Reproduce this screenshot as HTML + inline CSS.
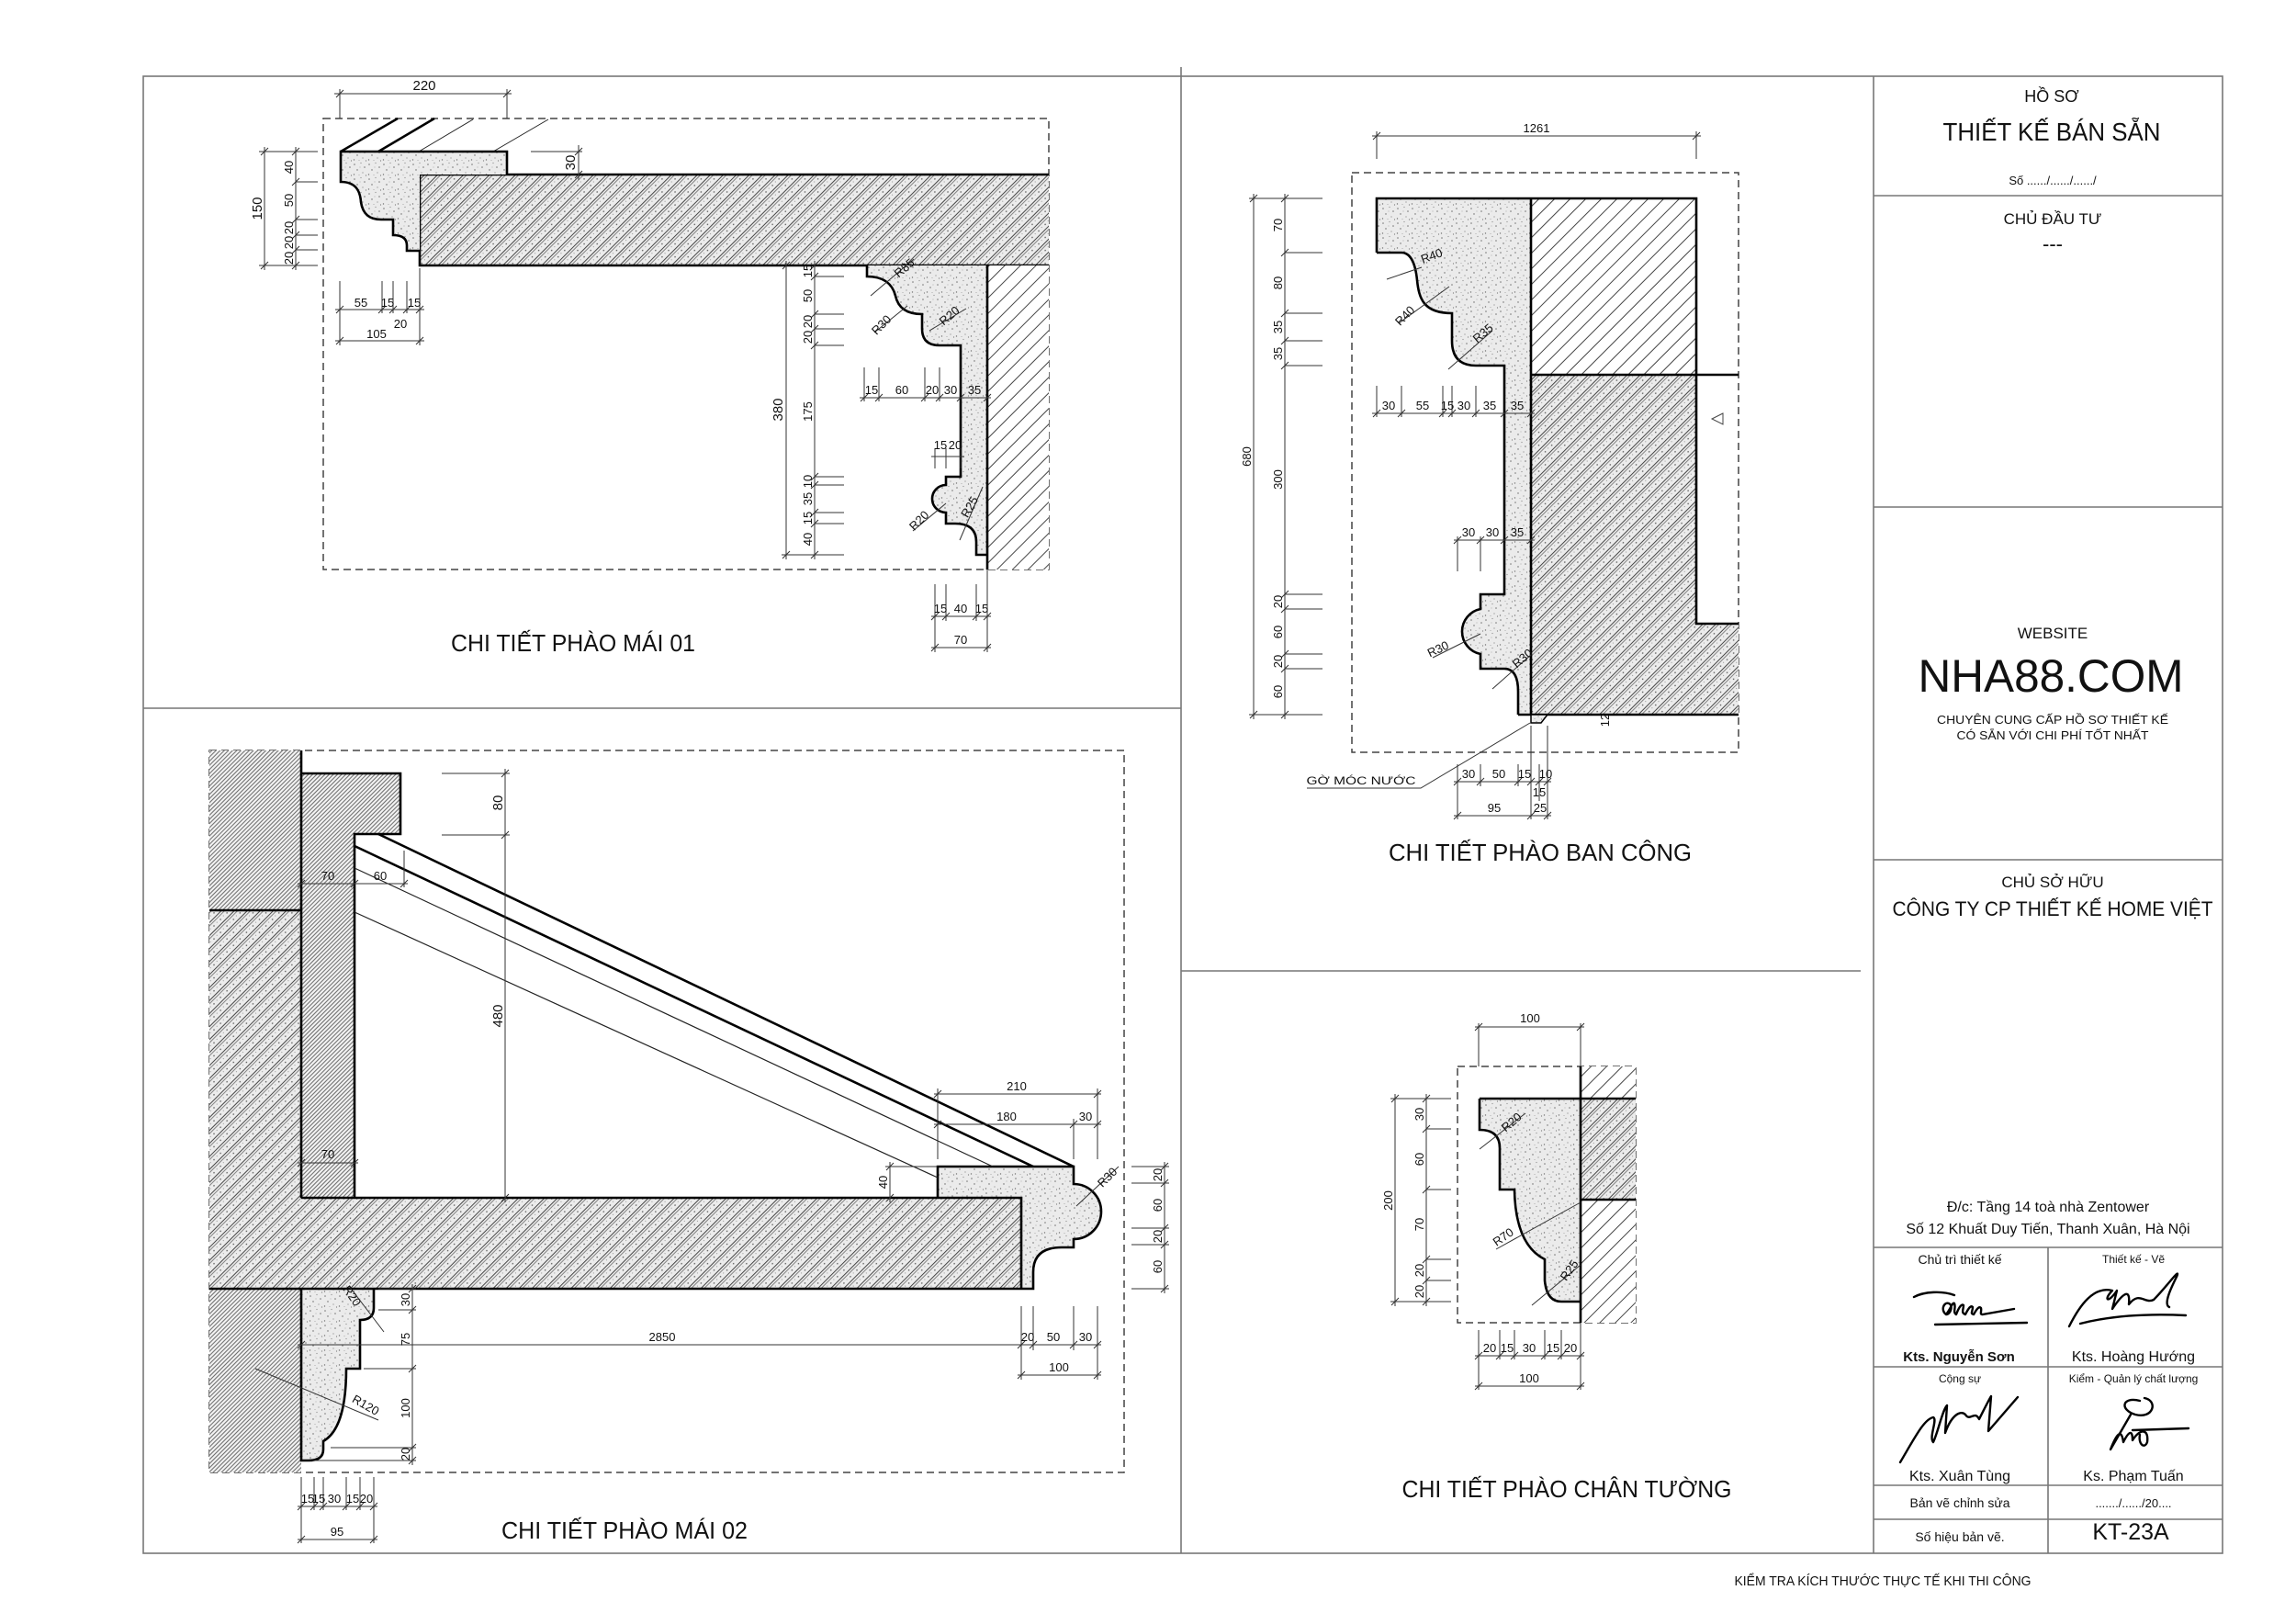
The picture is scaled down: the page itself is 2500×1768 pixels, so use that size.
<!DOCTYPE html>
<html><head><meta charset="utf-8"><style>
html,body{margin:0;padding:0;background:#fff}
svg{display:block}
text{font-family:"Liberation Sans",sans-serif;fill:#111}
.n{font-size:15px;text-anchor:middle}
.s{font-size:13px;text-anchor:middle}
.c{text-anchor:middle}
.d{stroke:#333;stroke-width:1;fill:none}
.t{stroke:#000;stroke-width:2.6;fill:none;stroke-linejoin:miter}
.f{stroke:#777;stroke-width:1.6;fill:none}
.dash{fill:none;stroke:#444;stroke-width:1.5;stroke-dasharray:8 5}
.sg{stroke:#000;stroke-width:2.4;fill:none;stroke-linecap:round;stroke-linejoin:round}
</style></head><body>
<svg xmlns="http://www.w3.org/2000/svg" width="2500" height="1768" viewBox="0 0 2500 1768">
<defs>
<pattern id="st" width="16" height="16" patternUnits="userSpaceOnUse">
<rect width="16" height="16" fill="#ebebeb"/>
<circle cx="2" cy="3" r=".8" fill="#777"/><circle cx="9" cy="1.5" r=".6" fill="#888"/><circle cx="13" cy="6" r=".8" fill="#777"/><circle cx="5" cy="9" r=".7" fill="#666"/><circle cx="11" cy="12" r=".6" fill="#888"/><circle cx="1.5" cy="14" r=".7" fill="#777"/><circle cx="7" cy="14.5" r=".5" fill="#999"/><circle cx="14.5" cy="15" r=".6" fill="#777"/><circle cx="8" cy="6" r=".5" fill="#999"/>
</pattern>
<pattern id="hs" width="10" height="10" patternUnits="userSpaceOnUse" patternTransform="rotate(-45)">
<rect width="10" height="10" fill="#ececec"/>
<line x1="0" y1="1.5" x2="10" y2="1.5" stroke="#333" stroke-width=".9"/>
<line x1="0" y1="4" x2="10" y2="4" stroke="#555" stroke-width=".7"/>
<circle cx="2" cy="7.5" r=".8" fill="#555"/><circle cx="7" cy="7" r=".5" fill="#777"/>
</pattern>
<pattern id="hp" width="12" height="12" patternUnits="userSpaceOnUse" patternTransform="rotate(-45)">
<rect width="12" height="12" fill="#fff"/>
<line x1="0" y1="6" x2="12" y2="6" stroke="#444" stroke-width="1"/>
</pattern>
<pattern id="hd" width="3.2" height="3.2" patternUnits="userSpaceOnUse" patternTransform="rotate(-45)">
<rect width="3.2" height="3.2" fill="#f4f4f4"/>
<line x1="0" y1="1.6" x2="3.2" y2="1.6" stroke="#555" stroke-width=".9"/>
</pattern>
</defs>
<rect width="2500" height="1768" fill="#fff"/>

<!-- FRAME -->
<g class="f">
<rect x="156" y="83" width="2264" height="1608"/>
<path d="M1286,73V1691 M156,771H1286 M1286,1057H2026 M2040,83V1691 M2040,213H2420 M2040,552H2420 M2040,936H2420 M2040,1358H2420 M2040,1488H2420 M2040,1617H2420 M2040,1654H2420 M2230,1358V1691"/>
</g>

<!-- TITLE BLOCK -->
<text class="c" x="2234" y="111" font-size="18">HỒ SƠ</text>
<text class="c" x="2234" y="153" font-size="28" textLength="237" lengthAdjust="spacingAndGlyphs">THIẾT KẾ BÁN SẴN</text>
<text class="c" x="2235" y="201" font-size="13">Số ....../....../....../</text>
<text class="c" x="2235" y="244" font-size="17">CHỦ ĐẦU TƯ</text>
<text class="c" x="2235" y="273" font-size="22">---</text>
<text class="c" x="2235" y="695" font-size="17">WEBSITE</text>
<text class="c" x="2233" y="753" font-size="50" textLength="289" lengthAdjust="spacingAndGlyphs">NHA88.COM</text>
<text class="c" x="2235" y="788" font-size="13" textLength="252" lengthAdjust="spacingAndGlyphs">CHUYÊN CUNG CẤP HỒ SƠ THIẾT KẾ</text>
<text class="c" x="2235" y="805" font-size="13" textLength="209" lengthAdjust="spacingAndGlyphs">CÓ SẴN VỚI CHI PHÍ TỐT NHẤT</text>
<text class="c" x="2235" y="966" font-size="17">CHỦ SỞ HỮU</text>
<text class="c" x="2235" y="997" font-size="22" textLength="349" lengthAdjust="spacingAndGlyphs">CÔNG TY CP THIẾT KẾ HOME VIỆT</text>
<text class="c" x="2230" y="1319" font-size="16">Đ/c: Tầng 14 toà nhà Zentower</text>
<text class="c" x="2230" y="1343" font-size="16">Số 12 Khuất Duy Tiến, Thanh Xuân, Hà Nội</text>
<text class="c" x="2134" y="1376" font-size="14">Chủ trì thiết kế</text>
<text class="c" x="2323" y="1375" font-size="12">Thiết kế - Vẽ</text>
<text class="c" x="2133" y="1482" font-size="15" font-weight="bold">Kts. Nguyễn Sơn</text>
<text class="c" x="2323" y="1482" font-size="16">Kts. Hoàng Hướng</text>
<text class="c" x="2134" y="1505" font-size="12">Cộng sự</text>
<text class="c" x="2323" y="1505" font-size="12">Kiểm - Quản lý chất lượng</text>
<text class="c" x="2134" y="1612" font-size="16">Kts. Xuân Tùng</text>
<text class="c" x="2323" y="1612" font-size="16">Ks. Phạm Tuấn</text>
<text class="c" x="2134" y="1641" font-size="14">Bản vẽ chỉnh sửa</text>
<text class="c" x="2323" y="1641" font-size="13">......./....../20....</text>
<text class="c" x="2134" y="1678" font-size="14">Số hiệu bản vẽ.</text>
<text class="c" x="2320" y="1676" font-size="25">KT-23A</text>
<text class="c" x="2050" y="1726" font-size="15" textLength="323" lengthAdjust="spacingAndGlyphs">KIỂM TRA KÍCH THƯỚC THỰC TẾ KHI THI CÔNG</text>

<!-- signatures -->
<path class="sg" d="M2084,1412 C2095,1406 2115,1405 2128,1410 M2119,1431 c-6,-4 -3,-14 3,-12 c5,2 2,12 -3,12 c5,-6 7,-14 9,-12 c2,4 -2,10 2,12 c3,-8 6,-12 8,-10 c0,5 -3,8 2,10 c4,-8 6,-10 8,-8 c0,5 -3,7 1,8 c4,-7 6,-9 8,-7 c1,4 -2,7 2,7 L2193,1425 M2107,1442 L2207,1440"/>
<path class="sg" d="M2253,1444 C2265,1420 2280,1400 2300,1405 C2290,1415 2295,1420 2305,1405 L2300,1425 C2310,1410 2320,1400 2318,1420 C2330,1405 2335,1420 2345,1415 C2360,1400 2375,1378 2370,1390 C2365,1400 2355,1420 2362,1423 M2265,1441 C2300,1432 2340,1430 2380,1432"/>
<path class="sg" d="M2069,1592 C2085,1565 2095,1545 2105,1543 C2110,1545 2100,1565 2105,1570 C2110,1560 2115,1535 2120,1530 L2118,1560 C2125,1540 2135,1535 2140,1540 C2145,1548 2150,1535 2155,1545 C2160,1535 2165,1525 2168,1520 L2165,1558 L2197,1521"/>
<path class="sg" d="M2330,1525 C2310,1520 2308,1535 2325,1540 C2345,1545 2350,1525 2335,1522 M2320,1540 L2298,1578 C2305,1560 2310,1555 2312,1570 C2318,1558 2322,1556 2322,1568 C2330,1555 2340,1555 2338,1570 C2335,1578 2328,1572 2330,1562 M2322,1557 L2383,1555"/>

<!-- ================= DRAWING 1 : PHAO MAI 01 ================= -->
<rect class="dash" x="352" y="129" width="790" height="491"/>
<path d="M371,165L433,129 M412,165L473,129" stroke="#000" stroke-width="2.5"/>
<path d="M456,165L515,130 M537,165L597,130" stroke="#222" stroke-width="1"/>
<rect x="457" y="190" width="685" height="99" fill="url(#hs)"/>
<path class="t" d="M1142,190H457V289H1142"/>
<path d="M371,165H552V190H457V273H443V267Q443,256 428,256V239H415C402,239 395,233 393,220C392,205 385,198 370,198Z" fill="url(#st)"/>
<path class="t" d="M552,190V165H371V198C385,198 392,205 393,220C395,233 402,239 415,239H428V256Q443,256 443,267V273H457"/>
<rect x="1075" y="289" width="67" height="331" fill="url(#hp)"/>
<path d="M944,289H1075V604H1063V590Q1063,570 1040,570H1030V558A15,15 0 0 1 1030,528V519H1046V376H1023Q1004,376 1004,358V342C988,342 978,336 975,322C972,310 963,301 944,301Z" fill="url(#st)"/>
<path class="t" d="M944,289V301C963,301 972,310 975,322C978,336 988,342 1004,342V358Q1004,376 1023,376H1046V519H1030V528A15,15 0 0 0 1030,558V570H1040Q1063,570 1063,590V604H1075"/>
<path class="t" d="M1075,289V620"/>
<!-- dims 1 -->
<path class="d" d="M364,102H557 M370,97V129 M552,97V129 M370,102m-4,4l8,-8 M552,102m-4,4l8,-8"/>
<text class="n" x="462" y="98">220</text>
<path class="d" d="M578,165H634 M630,158V196 M630,165m-4,4l8,-8 M630,190m-4,4l8,-8"/>
<text class="n" transform="rotate(-90 626 177)" x="626" y="177">30</text>
<path class="d" d="M288,160V294 M282,165H346 M282,289H346 M288,165m-4,4l8,-8 M288,289m-4,4l8,-8 M322,160V294 M322,198H346 M322,239H346 M322,256H346 M322,272H346 M322,165m-4,4l8,-8 M322,198m-4,4l8,-8 M322,239m-4,4l8,-8 M322,256m-4,4l8,-8 M322,272m-4,4l8,-8 M322,289m-4,4l8,-8"/>
<text class="n" transform="rotate(-90 285 227)" x="285" y="227">150</text>
<text class="s" transform="rotate(-90 319 182)" x="319" y="182">40</text>
<text class="s" transform="rotate(-90 319 218)" x="319" y="218">50</text>
<text class="s" transform="rotate(-90 319 248)" x="319" y="248">20</text>
<text class="s" transform="rotate(-90 319 264)" x="319" y="264">20</text>
<text class="s" transform="rotate(-90 319 281)" x="319" y="281">20</text>
<path class="d" d="M365,337H462 M370,306V376 M416,306V341 M428,306V341 M443,306V341 M457,292V376 M365,371H462 M370,337m-4,4l8,-8 M416,337m-4,4l8,-8 M428,337m-4,4l8,-8 M443,337m-4,4l8,-8 M457,337m-4,4l8,-8 M370,371m-4,4l8,-8 M457,371m-4,4l8,-8"/>
<text class="s" x="393" y="334">55</text><text class="s" x="422" y="334">15</text><text class="s" x="451" y="334">15</text><text class="s" x="436" y="357">20</text><text class="s" x="410" y="368">105</text>
<path class="d" d="M856,284V609 M851,604H919 M856,289m-4,4l8,-8 M856,604m-4,4l8,-8 M887,284V609 M887,301H919 M887,342H919 M887,358H919 M887,376H919 M887,519H919 M887,528H919 M887,558H919 M887,570H919 M887,289m-4,4l8,-8 M887,301m-4,4l8,-8 M887,342m-4,4l8,-8 M887,358m-4,4l8,-8 M887,376m-4,4l8,-8 M887,519m-4,4l8,-8 M887,528m-4,4l8,-8 M887,558m-4,4l8,-8 M887,570m-4,4l8,-8 M887,604m-4,4l8,-8"/>
<text class="n" transform="rotate(-90 852 446)" x="852" y="446">380</text>
<text class="s" transform="rotate(-90 884 295)" x="884" y="295">15</text>
<text class="s" transform="rotate(-90 884 322)" x="884" y="322">50</text>
<text class="s" transform="rotate(-90 884 350)" x="884" y="350">20</text>
<text class="s" transform="rotate(-90 884 367)" x="884" y="367">20</text>
<text class="s" transform="rotate(-90 884 448)" x="884" y="448">175</text>
<text class="s" transform="rotate(-90 884 524)" x="884" y="524">10</text>
<text class="s" transform="rotate(-90 884 543)" x="884" y="543">35</text>
<text class="s" transform="rotate(-90 884 564)" x="884" y="564">15</text>
<text class="s" transform="rotate(-90 884 587)" x="884" y="587">40</text>
<path class="d" d="M936,433H1079 M941,400V437 M957,400V437 M1007,400V437 M1023,400V437 M941,433m-4,4l8,-8 M957,433m-4,4l8,-8 M1007,433m-4,4l8,-8 M1023,433m-4,4l8,-8 M1046,433m-4,4l8,-8 M1075,433m-4,4l8,-8"/>
<text class="s" x="949" y="429">15</text><text class="s" x="982" y="429">60</text><text class="s" x="1015" y="429">20</text><text class="s" x="1035" y="429">30</text><text class="s" x="1061" y="429">35</text>
<path class="d" d="M1014,497H1050 M1018,488V510 M1030,488V510 M1046,488V510"/>
<text class="s" x="1024" y="489" font-size="11">15</text><text class="s" x="1040" y="489" font-size="11">20</text>
<path class="d" d="M1014,671H1079 M1018,636V710 M1030,636V676 M1063,636V676 M1075,620V710 M1014,705H1079 M1018,671m-4,4l8,-8 M1030,671m-4,4l8,-8 M1063,671m-4,4l8,-8 M1075,671m-4,4l8,-8 M1018,705m-4,4l8,-8 M1075,705m-4,4l8,-8"/>
<text class="s" x="1024" y="667" font-size="11">15</text><text class="s" x="1046" y="667">40</text><text class="s" x="1069" y="667" font-size="11">15</text><text class="s" x="1046" y="701">70</text>
<path class="d" d="M948,322L995,282 M952,362L988,333 M1012,360L1052,336 M994,578L1030,548 M1045,588L1070,530"/>
<text class="s" transform="rotate(-40 985 292)" x="985" y="296">R85</text>
<text class="s" transform="rotate(-45 960 354)" x="960" y="358">R30</text>
<text class="s" transform="rotate(-40 1034 344)" x="1034" y="348">R20</text>
<text class="s" transform="rotate(-45 1001 567)" x="1001" y="571">R20</text>
<text class="s" transform="rotate(-60 1056 552)" x="1056" y="556">R25</text>
<text class="c" x="624" y="709" font-size="26" textLength="266" lengthAdjust="spacingAndGlyphs">CHI TIẾT PHÀO MÁI 01</text>

<!-- ================= DRAWING 2 : PHAO MAI 02 ================= -->
<rect class="dash" x="228" y="817" width="996" height="786"/>
<rect x="228" y="817" width="100" height="174" fill="url(#hd)"/>
<path d="M228,991H328V1304H1112V1403H228Z" fill="url(#hs)"/>
<rect x="228" y="1403" width="100" height="200" fill="url(#hd)"/>
<path d="M328,842H436V908H386V1304H328Z" fill="url(#hd)"/>
<path d="M1021,1270H1169V1289A30,30 0 0 1 1169,1349V1358H1156Q1125,1358 1125,1385V1403H1112V1304H1021Z" fill="url(#st)"/>
<path d="M328,1403H407V1424Q407,1437 392,1437V1490H377Q377,1555 352,1569V1578Q352,1590 336,1590H328Z" fill="url(#st)"/>
<path class="t" d="M328,817V1304 M228,991H328 M328,842H436V908H386V1304 M328,1304H1112V1403 M1021,1304V1270H1169V1289A30,30 0 0 1 1169,1349V1358H1156Q1125,1358 1125,1385V1403H228 M328,1403V1590H336Q352,1590 352,1578V1569Q377,1555 377,1490H392V1437Q407,1437 407,1424V1403"/>
<path class="t" d="M412,908L1169,1270 M386,921L1125,1270"/>
<path d="M386,945L1081,1270 M386,993L1021,1282" stroke="#222" stroke-width="1.2" fill="none"/>
<!-- dims 2 -->
<path class="d" d="M481,842H555 M481,909H555 M550,837V1309 M550,842m-4,4l8,-8 M550,909m-4,4l8,-8 M550,1304m-4,4l8,-8"/>
<text class="n" transform="rotate(-90 547 874)" x="547" y="874">80</text>
<text class="n" transform="rotate(-90 547 1106)" x="547" y="1106">480</text>
<path class="d" d="M324,962H444 M440,926V966 M328,962m-4,4l8,-8 M386,962m-4,4l8,-8 M440,962m-4,4l8,-8"/>
<text class="s" x="357" y="958">70</text><text class="s" x="414" y="958">60</text>
<path class="d" d="M324,1266H390 M328,1266m-4,4l8,-8 M386,1266m-4,4l8,-8"/>
<text class="s" x="357" y="1261">70</text>
<path class="d" d="M969,1265V1309 M964,1270H1021 M969,1270m-4,4l8,-8 M969,1304m-4,4l8,-8"/>
<text class="s" transform="rotate(-90 966 1287)" x="966" y="1287">40</text>
<path class="d" d="M1017,1191H1199 M1017,1224H1199 M1021,1185V1262 M1195,1185V1262 M1169,1218V1262 M1021,1191m-4,4l8,-8 M1195,1191m-4,4l8,-8 M1021,1224m-4,4l8,-8 M1169,1224m-4,4l8,-8 M1195,1224m-4,4l8,-8"/>
<text class="s" x="1107" y="1187">210</text><text class="s" x="1096" y="1220">180</text><text class="s" x="1182" y="1220">30</text>
<path class="d" d="M1268,1265V1408 M1232,1270H1273 M1232,1288H1273 M1232,1337H1273 M1232,1355H1273 M1232,1403H1273 M1268,1270m-4,4l8,-8 M1268,1288m-4,4l8,-8 M1268,1337m-4,4l8,-8 M1268,1355m-4,4l8,-8 M1268,1403m-4,4l8,-8"/>
<text class="s" transform="rotate(-90 1265 1279)" x="1265" y="1279">20</text>
<text class="s" transform="rotate(-90 1265 1312)" x="1265" y="1312">60</text>
<text class="s" transform="rotate(-90 1265 1346)" x="1265" y="1346">20</text>
<text class="s" transform="rotate(-90 1265 1379)" x="1265" y="1379">60</text>
<path class="d" d="M324,1464H1199 M1112,1422V1502 M1125,1422V1470 M1169,1422V1470 M1195,1422V1502 M1108,1497H1199 M328,1464m-4,4l8,-8 M1112,1464m-4,4l8,-8 M1125,1464m-4,4l8,-8 M1169,1464m-4,4l8,-8 M1195,1464m-4,4l8,-8 M1112,1497m-4,4l8,-8 M1195,1497m-4,4l8,-8"/>
<text class="s" x="721" y="1460">2850</text><text class="s" x="1119" y="1460" font-size="11">20</text><text class="s" x="1147" y="1460">50</text><text class="s" x="1182" y="1460">30</text><text class="s" x="1153" y="1493">100</text>
<path class="d" d="M449,1398V1595 M412,1403H453 M412,1426H453 M396,1490H453 M360,1576H453 M340,1590H453 M449,1403m-4,4l8,-8 M449,1426m-4,4l8,-8 M449,1490m-4,4l8,-8 M449,1576m-4,4l8,-8 M449,1590m-4,4l8,-8"/>
<text class="s" transform="rotate(-90 446 1415)" x="446" y="1415">30</text>
<text class="s" transform="rotate(-90 446 1458)" x="446" y="1458">75</text>
<text class="s" transform="rotate(-90 446 1533)" x="446" y="1533">100</text>
<text class="s" transform="rotate(-90 446 1583)" x="446" y="1583" font-size="11">20</text>
<path class="d" d="M324,1640H411 M328,1608V1680 M342,1608V1644 M352,1608V1644 M377,1608V1644 M392,1608V1644 M407,1608V1680 M324,1676H411 M328,1640m-4,4l8,-8 M342,1640m-4,4l8,-8 M352,1640m-4,4l8,-8 M377,1640m-4,4l8,-8 M392,1640m-4,4l8,-8 M407,1640m-4,4l8,-8 M328,1676m-4,4l8,-8 M407,1676m-4,4l8,-8"/>
<text class="s" x="335" y="1636" font-size="11">15</text><text class="s" x="347" y="1636" font-size="11">15</text><text class="s" x="364" y="1636" font-size="11">30</text><text class="s" x="384" y="1636" font-size="11">15</text><text class="s" x="399" y="1636" font-size="11">20</text><text class="s" x="367" y="1672">95</text>
<path class="d" d="M380,1400L418,1450 M278,1490L412,1546 M1172,1313L1218,1270"/>
<text class="s" transform="rotate(55 383 1411)" x="383" y="1415">R20</text>
<text class="s" transform="rotate(30 398 1530)" x="398" y="1534">R120</text>
<text class="s" transform="rotate(-45 1206 1282)" x="1206" y="1286">R30</text>
<text class="c" x="680" y="1675" font-size="26" textLength="268" lengthAdjust="spacingAndGlyphs">CHI TIẾT PHÀO MÁI 02</text>

<!-- ================= DRAWING 3 : BAN CONG ================= -->
<rect class="dash" x="1472" y="188" width="421" height="631"/>
<rect x="1667" y="216" width="180" height="192" fill="url(#hp)"/>
<path d="M1667,408H1847V679H1893V778H1667Z" fill="url(#hs)"/>
<path d="M1499,216H1667V778H1653V753Q1653,728 1638,728H1612V712A25,25 0 0 1 1612,663V647H1638V398H1607Q1581,398 1581,371V341C1550,341 1545,325 1543,305C1541,285 1535,275 1526,275H1499Z" fill="url(#st)"/>
<path class="t" d="M1499,275V216H1847V408 M1667,216V778 M1667,408H1893 M1847,408V679H1893 M1653,778H1893 M1499,275H1526C1535,275 1541,285 1543,305C1545,325 1550,341 1581,341V371Q1581,398 1607,398H1638V647H1612V663A25,25 0 0 0 1612,712V728H1638Q1653,728 1653,753V778"/>
<path d="M1667,778H1685L1678,787H1667Z" fill="url(#st)" stroke="#000" stroke-width="1.5"/>
<path d="M1876,450L1864,456L1876,462Z" fill="none" stroke="#444" stroke-width="1"/>
<!-- dims 3 -->
<path class="d" d="M1494,148H1852 M1499,143V173 M1847,143V173 M1499,148m-4,4l8,-8 M1847,148m-4,4l8,-8"/>
<text class="s" x="1673" y="144">1261</text>
<path class="d" d="M1365,211V783 M1360,216H1440 M1360,778H1440 M1365,216m-4,4l8,-8 M1365,778m-4,4l8,-8 M1399,211V783 M1399,275H1440 M1399,341H1440 M1399,371H1440 M1399,398H1440 M1399,647H1440 M1399,663H1440 M1399,712H1440 M1399,728H1440 M1399,216m-4,4l8,-8 M1399,275m-4,4l8,-8 M1399,341m-4,4l8,-8 M1399,371m-4,4l8,-8 M1399,398m-4,4l8,-8 M1399,647m-4,4l8,-8 M1399,663m-4,4l8,-8 M1399,712m-4,4l8,-8 M1399,728m-4,4l8,-8 M1399,778m-4,4l8,-8"/>
<text class="s" transform="rotate(-90 1362 497)" x="1362" y="497">680</text>
<text class="s" transform="rotate(-90 1396 245)" x="1396" y="245">70</text>
<text class="s" transform="rotate(-90 1396 308)" x="1396" y="308">80</text>
<text class="s" transform="rotate(-90 1396 356)" x="1396" y="356">35</text>
<text class="s" transform="rotate(-90 1396 385)" x="1396" y="385">35</text>
<text class="s" transform="rotate(-90 1396 522)" x="1396" y="522">300</text>
<text class="s" transform="rotate(-90 1396 655)" x="1396" y="655">20</text>
<text class="s" transform="rotate(-90 1396 688)" x="1396" y="688">60</text>
<text class="s" transform="rotate(-90 1396 720)" x="1396" y="720">20</text>
<text class="s" transform="rotate(-90 1396 753)" x="1396" y="753">60</text>
<path class="d" d="M1494,450H1671 M1499,420V454 M1526,420V454 M1571,420V454 M1581,420V454 M1607,420V454 M1499,450m-4,4l8,-8 M1526,450m-4,4l8,-8 M1571,450m-4,4l8,-8 M1581,450m-4,4l8,-8 M1607,450m-4,4l8,-8 M1638,450m-4,4l8,-8 M1667,450m-4,4l8,-8"/>
<text class="s" x="1512" y="446">30</text><text class="s" x="1549" y="446">55</text><text class="s" x="1576" y="446" font-size="11">15</text><text class="s" x="1594" y="446">30</text><text class="s" x="1622" y="446">35</text><text class="s" x="1652" y="446">35</text>
<path class="d" d="M1583,588H1671 M1587,584V622 M1612,584V622 M1587,588m-4,4l8,-8 M1612,588m-4,4l8,-8 M1638,588m-4,4l8,-8 M1667,588m-4,4l8,-8"/>
<text class="s" x="1599" y="584">30</text><text class="s" x="1625" y="584">30</text><text class="s" x="1652" y="584">35</text>
<path class="d" d="M1583,851H1689 M1587,832V892 M1612,832V856 M1653,832V856 M1667,790V892 M1676,832V872 M1685,790V892 M1583,888H1689 M1587,851m-4,4l8,-8 M1612,851m-4,4l8,-8 M1653,851m-4,4l8,-8 M1667,851m-4,4l8,-8 M1676,851m-4,4l8,-8 M1685,851m-4,4l8,-8 M1587,888m-4,4l8,-8 M1667,888m-4,4l8,-8 M1685,888m-4,4l8,-8"/>
<text class="s" x="1599" y="847">30</text><text class="s" x="1632" y="847">50</text><text class="s" x="1660" y="847" font-size="11">15</text><text class="s" x="1683" y="847" font-size="11">10</text><text class="s" x="1676" y="867" font-size="11">15</text><text class="s" x="1627" y="884">95</text><text class="s" x="1677" y="884" font-size="11">25</text>
<path class="d" d="M1423,858H1547L1666,787"/>
<text class="c" x="1482" y="854" font-size="12" textLength="119" lengthAdjust="spacingAndGlyphs">GỜ MÓC NƯỚC</text>
<text class="s" transform="rotate(-90 1752 784)" x="1752" y="784" font-size="10">12</text>
<path class="d" d="M1510,304L1548,291 M1523,352L1578,312 M1577,402L1625,360 M1560,716L1612,690 M1625,750L1668,712"/>
<text class="s" transform="rotate(-20 1559 279)" x="1559" y="283">R40</text>
<text class="s" transform="rotate(-45 1530 344)" x="1530" y="348">R40</text>
<text class="s" transform="rotate(-40 1615 363)" x="1615" y="367">R35</text>
<text class="s" transform="rotate(-25 1566 707)" x="1566" y="711">R30</text>
<text class="s" transform="rotate(-40 1658 717)" x="1658" y="721">R30</text>
<text class="c" x="1677" y="937" font-size="26" textLength="330" lengthAdjust="spacingAndGlyphs">CHI TIẾT PHÀO BAN CÔNG</text>

<!-- ================= DRAWING 4 : CHAN TUONG ================= -->
<rect class="dash" x="1587" y="1161" width="194" height="279"/>
<rect x="1721" y="1161" width="60" height="35" fill="url(#hp)"/>
<rect x="1721" y="1196" width="60" height="110" fill="url(#hs)"/>
<rect x="1721" y="1306" width="60" height="134" fill="url(#hp)"/>
<path d="M1611,1196H1721V1417H1700Q1684,1417 1682,1394V1371Q1650,1355 1649,1295H1633V1250Q1633,1230 1611,1230Z" fill="url(#st)"/>
<path class="t" d="M1721,1161V1440 M1611,1196H1781 M1721,1306H1781 M1611,1196V1230Q1633,1230 1633,1250V1295H1649Q1650,1355 1682,1371V1394Q1684,1417 1700,1417H1721"/>
<path class="d" d="M1606,1118H1725 M1610,1114V1161 M1721,1114V1161 M1610,1118m-4,4l8,-8 M1721,1118m-4,4l8,-8"/>
<text class="s" x="1666" y="1113">100</text>
<path class="d" d="M1519,1191V1422 M1514,1196H1580 M1514,1417H1580 M1519,1196m-4,4l8,-8 M1519,1417m-4,4l8,-8 M1553,1191V1422 M1553,1229H1580 M1553,1295H1580 M1553,1371H1580 M1553,1394H1580 M1553,1196m-4,4l8,-8 M1553,1229m-4,4l8,-8 M1553,1295m-4,4l8,-8 M1553,1371m-4,4l8,-8 M1553,1394m-4,4l8,-8 M1553,1417m-4,4l8,-8"/>
<text class="s" transform="rotate(-90 1516 1307)" x="1516" y="1307">200</text>
<text class="s" transform="rotate(-90 1550 1213)" x="1550" y="1213">30</text>
<text class="s" transform="rotate(-90 1550 1262)" x="1550" y="1262">60</text>
<text class="s" transform="rotate(-90 1550 1333)" x="1550" y="1333">70</text>
<text class="s" transform="rotate(-90 1550 1383)" x="1550" y="1383">20</text>
<text class="s" transform="rotate(-90 1550 1406)" x="1550" y="1406">20</text>
<path class="d" d="M1606,1476H1725 M1610,1448V1513 M1633,1448V1480 M1649,1448V1480 M1682,1448V1480 M1700,1448V1480 M1721,1440V1513 M1606,1509H1725 M1610,1476m-4,4l8,-8 M1633,1476m-4,4l8,-8 M1649,1476m-4,4l8,-8 M1682,1476m-4,4l8,-8 M1700,1476m-4,4l8,-8 M1721,1476m-4,4l8,-8 M1610,1509m-4,4l8,-8 M1721,1509m-4,4l8,-8"/>
<text class="s" x="1622" y="1472">20</text><text class="s" x="1641" y="1472" font-size="11">15</text><text class="s" x="1665" y="1472">30</text><text class="s" x="1691" y="1472" font-size="11">15</text><text class="s" x="1710" y="1472">20</text><text class="s" x="1665" y="1505">100</text>
<path class="d" d="M1611,1251L1661,1212 M1629,1360L1721,1309 M1668,1421L1721,1377"/>
<text class="s" transform="rotate(-40 1646 1222)" x="1646" y="1226">R20</text>
<text class="s" transform="rotate(-35 1637 1347)" x="1637" y="1351">R70</text>
<text class="s" transform="rotate(-55 1709 1383)" x="1709" y="1387">R25</text>
<text class="c" x="1706" y="1630" font-size="26" textLength="359" lengthAdjust="spacingAndGlyphs">CHI TIẾT PHÀO CHÂN TƯỜNG</text>
</svg>
</body></html>
